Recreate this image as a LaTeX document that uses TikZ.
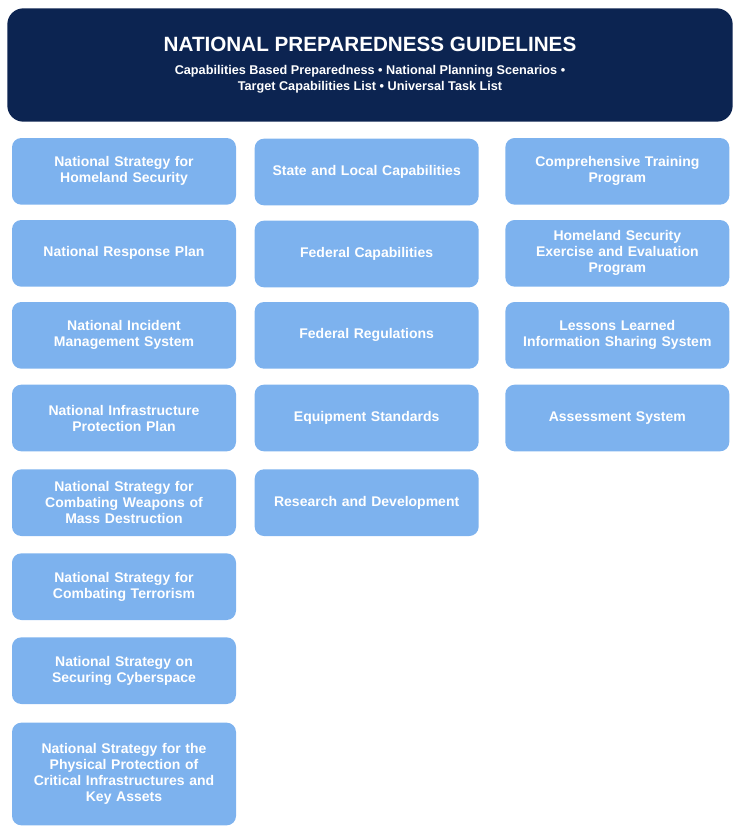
\documentclass[tikz,border=0pt]{standalone}
\usepackage{fontspec}
\setmainfont{Liberation Sans}
\usepackage{tikz}
\usetikzlibrary{positioning}
\definecolor{navy}{HTML}{0C2451}
\definecolor{boxblue}{HTML}{7DB2EE}

\begin{document}
\begin{tikzpicture}[x=1pt,y=-1pt,
  item/.style={rounded corners=7pt,fill=boxblue,text=white,font=\bfseries\fontsize{10.5}{12}\selectfont,
    align=center,minimum width=168pt,minimum height=50pt,inner sep=2pt,text width=164pt}]
\useasboundingbox (0,0) rectangle (555,624);
\node (head) [rounded corners=12pt,fill=navy,text=white,align=center,minimum width=544pt,minimum height=85pt,inner sep=0pt]
  at (277.5,48.75) {{\bfseries\fontsize{15.5}{18}\selectfont NATIONAL PREPAREDNESS GUIDELINES}\\[5pt]
  {\bfseries\fontsize{9.5}{12}\selectfont Capabilities Based Preparedness \textbullet{} National Planning Scenarios \textbullet}\\
  {\bfseries\fontsize{9.5}{12}\selectfont Target Capabilities List \textbullet{} Universal Task List}};
% first column
\node (nshs) [item] at (93,128.5) {National Strategy for\\Homeland Security};
\node (nrp) [item] at (93,190) {National Response Plan};
\node (nims) [item] at (93,251.5) {National Incident\\Management System};
\node (nipp) [item] at (93,313.5) {National Infrastructure\\Protection Plan};
\node (wmd) [item] at (93,377) {National Strategy for\\Combating Weapons of\\Mass Destruction};
\node (terr) [item] at (93,440) {National Strategy for\\Combating Terrorism};
\node (cyber) [item] at (93,503) {National Strategy on\\Securing Cyberspace};
\node (phys) [item,minimum height=77pt] at (93,580.5) {National Strategy for the\\Physical Protection of\\Critical Infrastructures and\\Key Assets};
% second column
\node (slc) [item] at (275,129) {State and Local Capabilities};
\node (fedcap) [item] at (275,190.5) {Federal Capabilities};
\node (fedreg) [item] at (275,251.5) {Federal Regulations};
\node (equip) [item] at (275,313.5) {Equipment Standards};
\node (rnd) [item] at (275,377) {Research and Development};
% third column
\node (ctp) [item] at (463,128.5) {Comprehensive Training\\Program};
\node (hseep) [item] at (463,190) {Homeland Security\\Exercise and Evaluation\\Program};
\node (lessons) [item] at (463,251.5) {Lessons Learned\\Information Sharing System};
\node (assess) [item] at (463,313.5) {Assessment System};
\end{tikzpicture}
\end{document}
